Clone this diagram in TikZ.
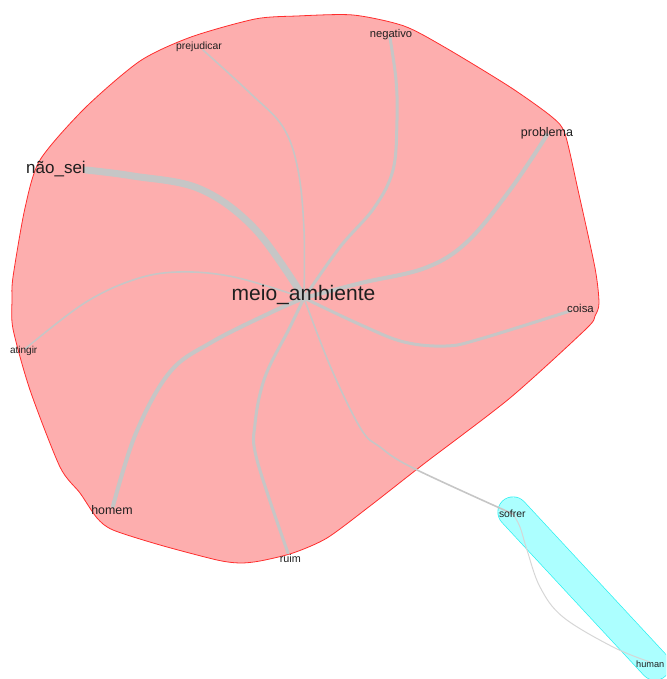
\documentclass[tikz,border=0pt]{standalone}
\usepackage{fontspec}
\setmainfont{Liberation Sans}
\definecolor{hullred}{RGB}{253,174,174}
\definecolor{hullredline}{RGB}{255,45,45}
\definecolor{hullcyan}{RGB}{172,255,255}
\definecolor{hullcyanline}{RGB}{40,240,240}
\definecolor{edgegrey}{RGB}{198,198,198}
\definecolor{edgelight}{RGB}{214,214,214}
\begin{document}
\begin{tikzpicture}[x=1pt,y=-1pt,
  edge/.style={draw=edgegrey, line cap=round, line join=round},
  word/.style={inner sep=0pt, text=black!88, anchor=base, font=\fontsize{#1}{#1}\selectfont},
]
\clip (0,0) rectangle (666,679);

% group hulls
\filldraw[fill=hullred, draw=hullredline, line width=0.8pt]
  plot[smooth cycle, tension=0.45] coordinates {
    (40,160) (85,108) (140,61) (191,37) (255,19) (297,16) (353,15) (404,26)
    (446,48) (510,87) (552,117) (565,134) (578,190) (595,268) (599,303)
    (595,316) (586,329) (510,398) (425,463) (370,506) (327,538) (293,553)
    (260,561) (240,563) (217,560) (160,545) (113,530) (97,518) (80,493)
    (60,467) (30,390) (13,329) (12,300) (13,277) (25,208)};
\coordinate (capA) at (513,512);
\coordinate (capB) at (655,665);
\draw[hullcyanline, line width=31pt, line cap=round] (capA) -- (capB);
\draw[hullcyan, line width=29.6pt, line cap=round] (capA) -- (capB);

% vertices
\coordinate (v-hub) at (304,298);
\coordinate (v-naosei) at (86,170);
\coordinate (v-prej) at (203,50);
\coordinate (v-neg) at (390,38);
\coordinate (v-prob) at (547,135);
\coordinate (v-coisa) at (570,311);
\coordinate (v-ating) at (25,349);
\coordinate (v-homem) at (113,506);
\coordinate (v-ruim) at (288,553);
\coordinate (v-sofrer) at (513,514);
\coordinate (v-human) at (650,662);

% edges
\draw[edge, line width=7pt] plot[smooth, tension=0.6] coordinates
  {(v-hub) (255,229) (200,189) (133,176) (v-naosei)};
\draw[edge, line width=1.6pt] plot[smooth, tension=0.6] coordinates
  {(v-hub) (304,230) (298,170) (283,127) (250,93) (v-prej)};
\draw[edge, line width=3pt] plot[smooth, tension=0.6] coordinates
  {(v-hub) (340,247) (374,208) (393,170) (397,120) (396,80) (v-neg)};
\draw[edge, line width=4pt] plot[smooth, tension=0.6] coordinates
  {(v-hub) (361,283) (425,268) (467,242) (510,190) (v-prob)};
\draw[edge, line width=3pt] plot[smooth, tension=0.6] coordinates
  {(v-hub) (361,325) (404,342) (446,346) (480,339) (v-coisa)};
\draw[edge, line width=1.6pt] plot[smooth, tension=0.6] coordinates
  {(v-hub) (331,368) (361,429) (380,447) (413,468) (v-sofrer)};
\draw[edge, line width=3pt] plot[smooth, tension=0.6] coordinates
  {(v-hub) (289,329) (265,377) (255,424) (257,460) (v-ruim)};
\draw[edge, line width=4pt] plot[smooth, tension=0.6] coordinates
  {(v-hub) (272,312) (212,342) (170,372) (136,433) (v-homem)};
\draw[edge, line width=1.6pt] plot[smooth, tension=0.6] coordinates
  {(v-hub) (234,277) (178,272) (133,280) (83,304) (v-ating)};
\draw[edge, draw=edgelight, line width=1pt] plot[smooth, tension=0.6] coordinates
  {(v-sofrer) (520,527) (527,550) (540,587) (563,617) (613,647) (v-human)};

% labels
\node[word=21] (meio) at (303.5,300) {meio\_ambiente};
\node[word=17] (naosei) at (56,174) {não\_sei};
\node[word=12.5] (problema) at (547,137) {problema};
\node[word=11.2] (negativo) at (391,37.5) {negativo};
\node[word=10.4] (prejudicar) at (199,49.5) {prejudicar};
\node[word=11.4] (coisa) at (580.5,312) {coisa};
\node[word=10] (atingir) at (23.7,353.5) {atingir};
\node[word=12.4] (homem) at (112,514.5) {homem};
\node[word=10.8] (ruim) at (290.3,562) {ruim};
\node[word=10.4] (sofrer) at (512.3,517.5) {sofrer};
\node[word=9.2, anchor=base west] (human) at (636,667) {human};
\end{tikzpicture}
\end{document}
